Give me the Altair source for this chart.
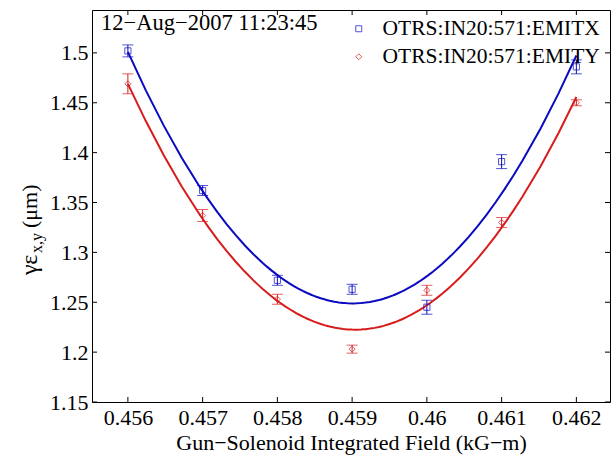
import altair as alt
import pandas as pd

# ---------------- data ----------------
field = [0.456, 0.457, 0.458, 0.459, 0.460, 0.461, 0.462]
emitx = [1.502, 1.362, 1.272, 1.263, 1.245, 1.391, 1.486]
emitx_err = [0.006, 0.005, 0.005, 0.005, 0.007, 0.007, 0.007]
emity = [1.469, 1.337, 1.253, 1.203, 1.262, 1.330, 1.450]
emity_err = [0.010, 0.006, 0.005, 0.004, 0.005, 0.005, 0.003]
series_names = ["OTRS:IN20:571:EMITX", "OTRS:IN20:571:EMITY"]
x_ticks = [0.456, 0.457, 0.458, 0.459, 0.460, 0.461, 0.462]
y_ticks = [1.15, 1.2, 1.25, 1.3, 1.35, 1.4, 1.45, 1.5]
timestamp = "12\u2212Aug\u22122007 11:23:45"
x_title = "Gun\u2212Solenoid Integrated Field (kG\u2212m)"

BLUE = "#0a0ac0"
RED = "#d81c1c"
COLORS = [BLUE, RED]
FONT = "Liberation Serif"
FS = 22
LFS = 21.5
W, H = 518, 392

rows = []
for name, ys, errs in [(series_names[0], emitx, emitx_err), (series_names[1], emity, emity_err)]:
    for f, y, e in zip(field, ys, errs):
        rows.append({"field": f, "emit": y, "lo": y - e, "hi": y + e, "series": name})
df = pd.DataFrame(rows)
xt = pd.DataFrame({"v": x_ticks})
yt = pd.DataFrame({"v": y_ticks})

xscale = alt.Scale(domain=[0.45552, 0.46245], nice=False, zero=False)
yscale = alt.Scale(domain=[1.15, 1.543], nice=False, zero=False)
cscale = alt.Scale(domain=series_names, range=COLORS)
sscale = alt.Scale(domain=series_names, range=["square", "diamond"])

xaxis = alt.Axis(values=x_ticks, format="~g", ticks=False, domain=False, grid=False,
                 labelFont=FONT, labelFontSize=FS, labelColor="black",
                 labelPadding=5, title=x_title, titlePadding=4)
yaxis = alt.Axis(values=y_ticks, format="~g", ticks=False, domain=False, grid=False,
                 labelFont=FONT, labelFontSize=FS, labelColor="black",
                 labelPadding=4, title=None)

X = alt.X("field:Q", scale=xscale, axis=xaxis)
Y = alt.Y("emit:Q", scale=yscale, axis=yaxis)

layers = []
for name, col in zip(series_names, COLORS):
    b = alt.Chart(df).transform_filter(alt.datum.series == name)
    layers.append(
        b.transform_regression("field", "emit", method="poly", order=2, extent=[0.456, 0.462])
        .mark_line(strokeWidth=2, color=col).encode(x=X, y=Y)
    )
    layers.append(b.mark_rule(strokeWidth=1, color=col).encode(x=X, y=alt.Y("lo:Q", scale=yscale, axis=yaxis), y2="hi:Q"))
    layers.append(b.mark_tick(orient="horizontal", size=11, thickness=1, color=col).encode(
        x=X, y=alt.Y("lo:Q", scale=yscale, axis=yaxis)))
    layers.append(b.mark_tick(orient="horizontal", size=11, thickness=1, color=col).encode(
        x=X, y=alt.Y("hi:Q", scale=yscale, axis=yaxis)))

legend = alt.Legend(title=None, orient="none", legendX=256, legendY=8,
                    labelFont=FONT, labelFontSize=LFS, labelColor="black", labelLimit=400,
                    symbolSize=36, symbolStrokeWidth=1, rowPadding=5, labelOffset=13)

points = alt.Chart(df).mark_point(filled=False, size=38, strokeWidth=1).encode(
    x=X, y=Y,
    color=alt.Color("series:N", scale=cscale, legend=legend),
    shape=alt.Shape("series:N", scale=sscale, legend=legend),
)
layers.append(points)

# inward ticks on all four sides
YT = alt.Y("v:Q", scale=yscale, axis=yaxis)
XT = alt.X("v:Q", scale=xscale, axis=xaxis)
layers.append(alt.Chart(yt).mark_rule(color="black").encode(y=YT, x=alt.value(0), x2=alt.value(5)))
layers.append(alt.Chart(yt).mark_rule(color="black").encode(y=YT, x=alt.value(W - 5), x2=alt.value(W)))
layers.append(alt.Chart(xt).mark_rule(color="black").encode(x=XT, y=alt.value(H - 5), y2=alt.value(H)))
layers.append(alt.Chart(xt).mark_rule(color="black").encode(x=XT, y=alt.value(0), y2=alt.value(5)))

layers.append(alt.Chart(alt.Data(values=[{"t": timestamp}])).mark_text(
    font=FONT, fontSize=22.5, color="black", align="left", baseline="middle"
).encode(text="t:N", x=alt.value(9), y=alt.value(13)))

# y title: gamma epsilon with subscript x,y
ylab = [{"t": "\u03b3\u03b5", "x": -62, "y": 265, "s": 24},
        {"t": "x,y", "x": -55, "y": 243, "s": 16},
        {"t": "(\u03bcm)", "x": -62, "y": 218, "s": 22}]
for p in ylab:
    layers.append(
        alt.Chart(alt.Data(values=[{"t": p["t"]}])).mark_text(
            font=FONT, fontSize=p["s"], color="black", align="left", baseline="middle", angle=270
        ).encode(text="t:N", x=alt.value(p["x"]), y=alt.value(p["y"]))
    )

chart = alt.layer(*layers).properties(
    width=W, height=H,
    padding={"left": 92, "top": 10, "right": 3, "bottom": 58},
    autosize=alt.AutoSizeParams(type="none"),
).configure(background="white", font=FONT).configure_view(
    stroke="black", strokeWidth=1
).configure_axis(
    labelFont=FONT, labelFontSize=FS, labelColor="black",
    titleFont=FONT, titleFontSize=FS, titleFontWeight="normal", titleColor="black",
).configure_legend(labelFont=FONT, labelFontSize=LFS, labelColor="black", labelLimit=400)

chart.save("out.html", embed_options={"renderer": "svg", "actions": False})
